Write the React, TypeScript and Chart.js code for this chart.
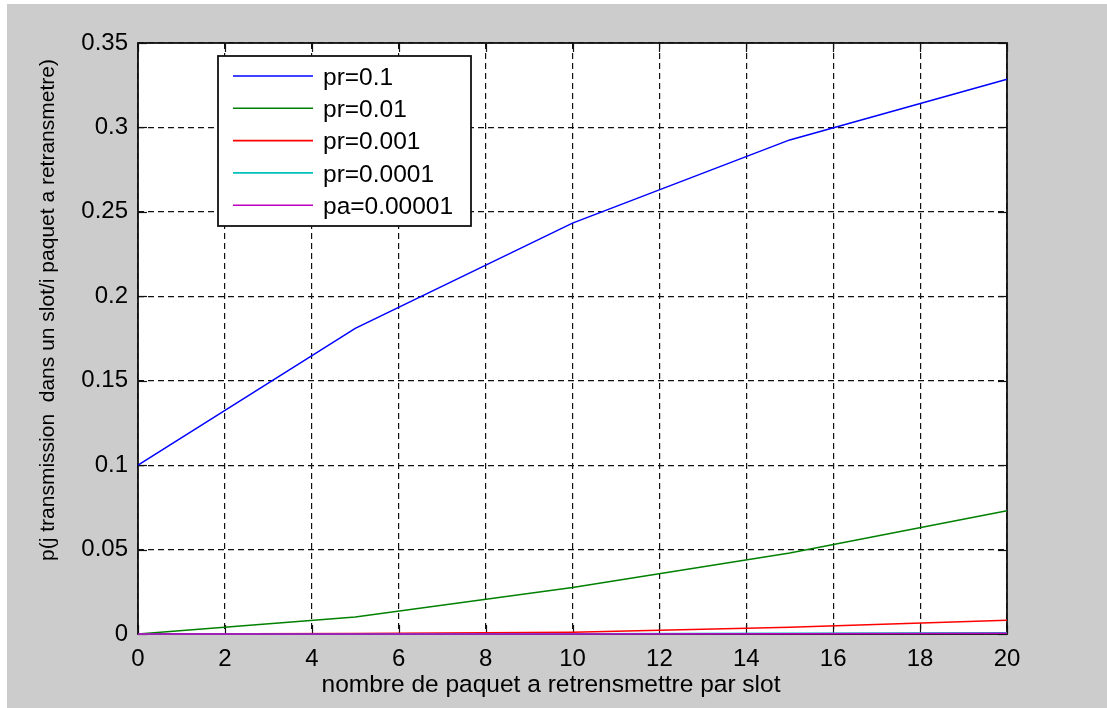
import React, { useEffect, useRef } from "react";
import { Chart, registerables } from "chart.js";
Chart.register(...registerables);

// ---- data ----
const xValues = [0, 5, 10, 15, 20];
const seriesLabels = ["pr=0.1", "pr=0.01", "pr=0.001", "pr=0.0001", "pa=0.00001"];
const seriesPr01 = [0.1, 0.181, 0.2433, 0.2926, 0.3285];
const seriesPr001 = [0, 0.01, 0.0275, 0.048, 0.073];
const seriesPr0001 = [0, 0.0003, 0.0011, 0.004, 0.0082];
const seriesPr00001 = [0, 0.00001, 0.0001, 0.0004, 0.0008];
const seriesPa000001 = [0, 0, 0.00001, 0.0001, 0.0005];
const seriesColors = ["#0000ff", "#008000", "#ff0000", "#00bfbf", "#bf00bf"];
const xTitle = "nombre de paquet a retrensmettre par slot";
const yTitle = "p(j transmission  dans un slot/i paquet a retransmetre)";
const xMin = 0, xMax = 20, xStep = 2;
const yMin = 0, yMax = 0.35, yStep = 0.05;

const allSeries = [seriesPr01, seriesPr001, seriesPr0001, seriesPr00001, seriesPa000001];

const FONT = "'Liberation Sans', Arial, sans-serif";

const decorPlugin = {
  id: "matlabDecor",
  beforeDraw(chart: any) {
    const { ctx, width, height, chartArea: a } = chart;
    ctx.save();
    ctx.fillStyle = "#ffffff";
    ctx.fillRect(0, 0, width, height);
    ctx.fillStyle = "#cccccc";
    ctx.fillRect(7, 4, width - 7, height - 4);
    ctx.fillStyle = "#ffffff";
    ctx.fillRect(a.left, a.top, a.right - a.left, a.bottom - a.top);
    ctx.restore();
  },
  beforeDatasetsDraw(chart: any) {
    const { ctx, chartArea: a, scales } = chart;
    ctx.save();
    ctx.strokeStyle = "#111111";
    ctx.lineWidth = 1.2;
    const tl = 9;
    const seg = (x1: number, y1: number, x2: number, y2: number) => {
      ctx.beginPath();
      ctx.moveTo(x1, y1);
      ctx.lineTo(x2, y2);
      ctx.stroke();
    };
    scales.x.ticks.forEach((t: any) => {
      const px = Math.round(scales.x.getPixelForValue(t.value)) + 0.5;
      seg(px, a.bottom, px, a.bottom - tl);
      seg(px, a.top, px, a.top + tl);
    });
    scales.y.ticks.forEach((t: any) => {
      const py = Math.round(scales.y.getPixelForValue(t.value)) + 0.5;
      seg(a.left, py, a.left + tl, py);
      seg(a.right, py, a.right - tl, py);
    });
    ctx.lineWidth = 1.8;
    ctx.strokeRect(a.left, a.top, a.right - a.left, a.bottom - a.top);
    ctx.restore();
  },
  afterDraw(chart: any) {
    const { ctx, chartArea: a } = chart;
    ctx.save();
    // legend
    const lx = a.left + 80, ly = a.top + 13, lw = 253, lh = 170;
    ctx.fillStyle = "#ffffff";
    ctx.fillRect(lx, ly, lw, lh);
    ctx.strokeStyle = "#111111";
    ctx.lineWidth = 1.8;
    ctx.strokeRect(lx, ly, lw, lh);
    const rowGap = 32.3;
    ctx.font = `24.5px ${FONT}`;
    ctx.textAlign = "left";
    ctx.textBaseline = "middle";
    seriesLabels.forEach((lab, i) => {
      const ry = ly + 20 + i * rowGap;
      ctx.strokeStyle = seriesColors[i];
      ctx.lineWidth = 1.6;
      ctx.beginPath();
      ctx.moveTo(lx + 15, ry);
      ctx.lineTo(lx + 95, ry);
      ctx.stroke();
      ctx.fillStyle = "#000000";
      ctx.fillText(lab, lx + 105, ry + 2);
    });
    // axis titles
    ctx.fillStyle = "#000000";
    ctx.font = `24.5px ${FONT}`;
    ctx.textAlign = "center";
    ctx.textBaseline = "alphabetic";
    ctx.fillText(xTitle, 551, 692);
    ctx.font = `21px ${FONT}`;
    ctx.translate(53.5, 310);
    ctx.rotate(-Math.PI / 2);
    ctx.fillText(yTitle, 0, 0);
    ctx.restore();
  },
};

export default function App() {
  const ref = useRef<HTMLCanvasElement | null>(null);
  useEffect(() => {
    if (!ref.current) return;
    const chart = new Chart(ref.current, {
      type: "line",
      data: {
        datasets: allSeries.map((s, i) => ({
          label: seriesLabels[i],
          data: xValues.map((x, j) => ({ x, y: s[j] })),
          borderColor: seriesColors[i],
          backgroundColor: seriesColors[i],
          borderWidth: 1.5,
          pointRadius: 0,
          tension: 0,
          fill: false,
          clip: 3,
          order: allSeries.length - i,
        })),
      },
      options: {
        animation: false,
        responsive: false,
        maintainAspectRatio: false,
        layout: { padding: { left: 0, top: 43, right: 100, bottom: 0 } },
        plugins: { legend: { display: false }, tooltip: { enabled: false } },
        scales: {
          x: {
            type: "linear",
            min: xMin,
            max: xMax,
            afterFit: (s: any) => { s.height = 74; },
            ticks: {
              stepSize: xStep,
              color: "#000",
              padding: 11,
              maxRotation: 0,
              font: { family: FONT, size: 24 },
            },
            grid: { color: "#111", lineWidth: 1.2, drawTicks: false },
            border: { display: false, dash: [6, 4] },
          },
          y: {
            type: "linear",
            min: yMin,
            max: yMax,
            afterFit: (s: any) => { s.width = 138; },
            ticks: {
              stepSize: yStep,
              color: "#000",
              padding: 10,
              font: { family: FONT, size: 24 },
              callback: (v: any) => String(Number(Number(v).toFixed(2))),
            },
            grid: { color: "#111", lineWidth: 1.2, drawTicks: false },
            border: { display: false, dash: [6, 4] },
          },
        },
      },
      plugins: [decorPlugin],
    });
    return () => chart.destroy();
  }, []);
  return (
    <canvas
      ref={ref}
      width={1107}
      height={708}
      style={{ position: "fixed", left: 0, top: 0, width: 1107, height: 708 }}
    />
  );
}
